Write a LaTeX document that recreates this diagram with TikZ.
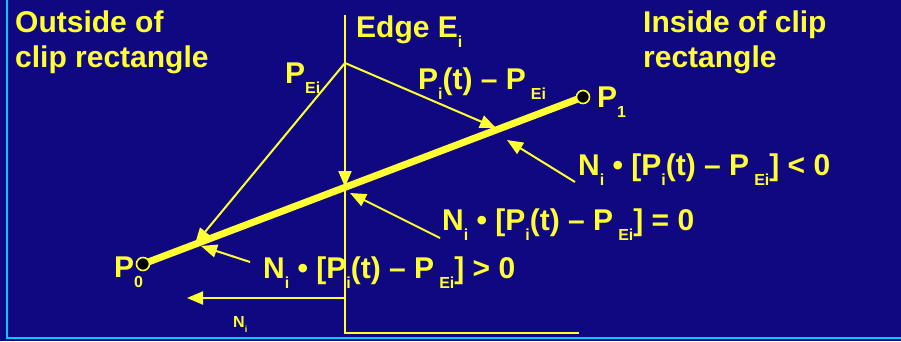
\documentclass[tikz,border=0pt]{standalone}
\usepackage{fontspec}
\setmainfont{Liberation Sans}
\usetikzlibrary{arrows.meta,calc}
\definecolor{slideblue}{RGB}{16,8,128}
\definecolor{slideyellow}{RGB}{255,255,51}
\definecolor{slidecyan}{RGB}{0,204,255}
\newcommand{\sbs}[1]{\raisebox{-10pt}{\fontsize{16}{16}\selectfont#1}}

\begin{document}
\begin{tikzpicture}[x=1pt,y=-1pt,
 txt/.style={text=slideyellow,font=\fontsize{30}{35}\selectfont\bfseries,inner sep=0pt,anchor=base west},
 ylw/.style={draw=slideyellow,line width=2pt},
 ptr/.style={ylw,-{Triangle[length=16pt,width=13pt]}},
 endpt/.style={circle,draw=slideyellow,fill=black,line width=1.6pt,minimum size=13pt,inner sep=0pt}]
\fill[slideblue](0,0)rectangle(901,341);\useasboundingbox(0,0)rectangle(901,341);
\draw[slidecyan,line width=2pt](6.5,0)--(6.5,338)--(901,338);
\node[txt,anchor=north west,align=left](outside)at(15,11){Outside of\\clip rectangle};
\node[txt,anchor=north west,align=left](inside)at(643,11){Inside of clip\\rectangle};
\node[txt](edge)at(356,37){Edge E\sbs{i}};
\node[txt](pe)at(285,83){P\sbs{Ei}};
\node[txt](pt)at(418,89){P\sbs{i}(t) -- P\hspace{5pt}\sbs{Ei}};
\node[txt](lp1)at(597,107){P\sbs{1}};
\node[txt](lp0)at(114,277){P\sbs{0}};
\node[txt](lt)at(578,175){N\sbs{i} \textbullet{} [P\sbs{i}(t) -- P\hspace{5pt}\sbs{Ei}] < 0};
\node[txt](eq)at(442,230){N\sbs{i} \textbullet{} [P\sbs{i}(t) -- P\hspace{5pt}\sbs{Ei}] = 0};
\node[txt](gt)at(263,278){N\sbs{i} \textbullet{} [P\sbs{i}(t) -- P\hspace{5pt}\sbs{Ei}] > 0};
\node[txt,font=\fontsize{16}{16}\selectfont\bfseries](ni)at(233,327){N\raisebox{-5pt}{\fontsize{9}{9}\selectfont i}};
\coordinate(pei)at(345,63);\coordinate(etop)at(345,15);\coordinate(ebot)at(345,333);\coordinate(bend)at(579,333);
\coordinate(p0)at(143,264);\coordinate(p1)at(583,97);
\coordinate(hit0)at(195,244);\coordinate(hit1)at(496,128);\coordinate(hitE)at(345,187);
\coordinate(ltip)at(507,140);\coordinate(etip)at(350,193);\coordinate(gtip)at(201,246);
\coordinate(nfoot)at(345,298);\coordinate(ntip)at(187,298);
\draw[ylw](etop)--(ebot)--(bend);
\draw[slideyellow,line width=7pt](p0)--(p1);
\draw[ptr](pei)--(hit0);\draw[ptr](pei)--(hit1);\draw[ptr](pei)--(hitE);
\draw[ptr]([shift={(-3,7)}]lt.base west)--(ltip);
\draw[ptr]([shift={(-2,8)}]eq.base west)--(etip);
\draw[ptr]([shift={(-13,-16)}]gt.base west)--(gtip);
\draw[ptr](nfoot)--(ntip);
\node[endpt](dot0)at(p0){};\node[endpt](dot1)at(p1){};
\end{tikzpicture}
\end{document}
